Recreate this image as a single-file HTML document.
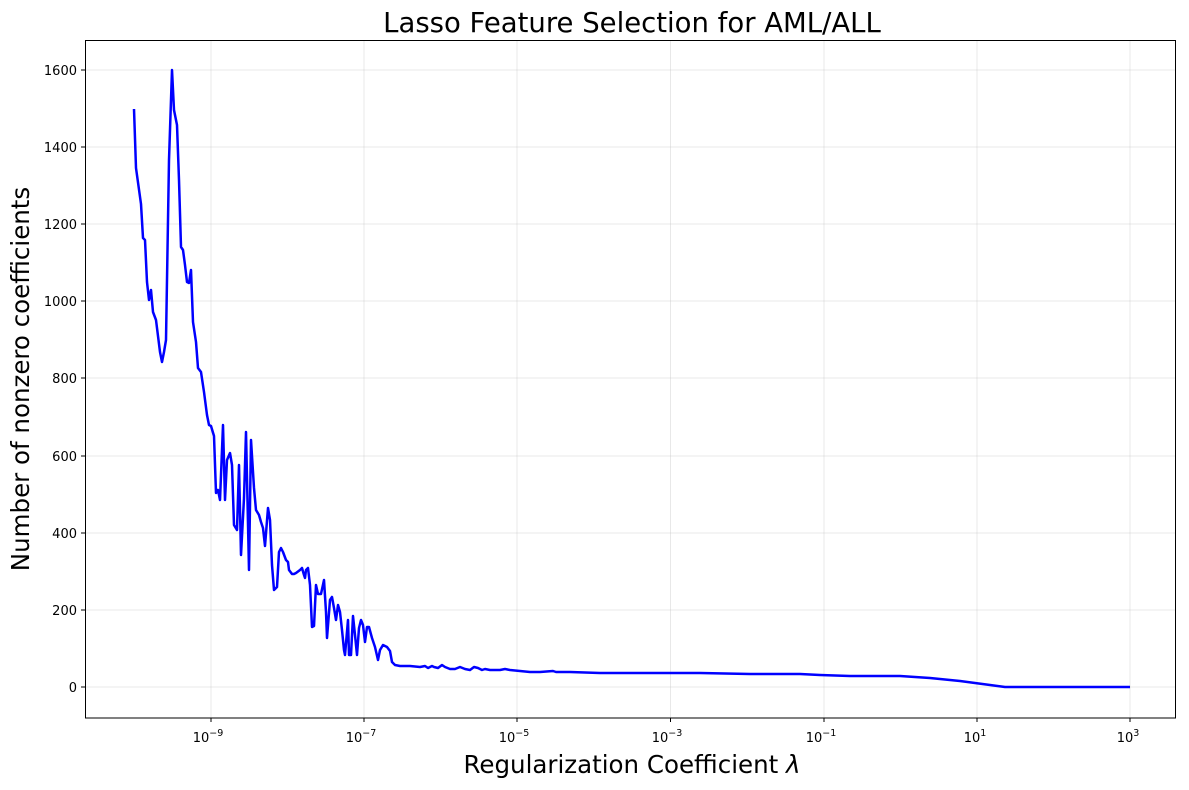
<!DOCTYPE html>
<html><head><meta charset="utf-8"><style>body{margin:0;background:#fff}svg{display:block}text{font-family:"DejaVu Sans","Liberation Sans",sans-serif;fill:#000}</style></head>
<body>
<svg width="1189" height="790" viewBox="0 0 1189 790" xmlns="http://www.w3.org/2000/svg">
<rect width="1189" height="790" fill="#fff"/>
<g stroke="#b0b0b0" stroke-opacity="0.35" stroke-width="0.8">
<line x1="211" y1="40" x2="211" y2="718"/><line x1="364" y1="40" x2="364" y2="718"/><line x1="517" y1="40" x2="517" y2="718"/><line x1="670.5" y1="40" x2="670.5" y2="718"/><line x1="824" y1="40" x2="824" y2="718"/><line x1="977" y1="40" x2="977" y2="718"/><line x1="1130" y1="40" x2="1130" y2="718"/>
<line x1="85" y1="687" x2="1176" y2="687"/><line x1="85" y1="610" x2="1176" y2="610"/><line x1="85" y1="533" x2="1176" y2="533"/><line x1="85" y1="456" x2="1176" y2="456"/><line x1="85" y1="378" x2="1176" y2="378"/><line x1="85" y1="301" x2="1176" y2="301"/><line x1="85" y1="224" x2="1176" y2="224"/><line x1="85" y1="147" x2="1176" y2="147"/><line x1="85" y1="70" x2="1176" y2="70"/>
</g>
<polyline fill="none" stroke="#0000ff" stroke-width="2.5" stroke-linejoin="round" points="134,109 136,168 141,204 143,238 145,240 147,282 149,300 151,290 153,312 156,320 158,336 160,352 162,362 164,352 166,340 169,160 172,70 174,110 177,125 179,180 181,247 183,250 185,265 187,282 189,283 191,270 193,322 196,342 198,368 201,372 204,392 207,415 209,425 211,426 214,436 216,493 218,490 220,500 223,425 225,500 227,460 230,453 232,465 234,525 237,530 239,465 241,555 244,498 246,432 249,570 251,440 254,488 256,510 259,515 261,522 263,528 265,546 268,508 270,520 272,565 274,590 277,587 279,552 281,548 283,552 286,560 288,562 289,570 292,574 294,574 296,573 300,570 302,568 304,575 305,578 306,570 308,568 310,585 312,627 314,626 316,585 318,594 321,594 324,580 326,612 327,638 330,600 332,597 334,608 336,620 338,605 340,612 342,630 344,650 345,655 348,620 349,655 351,655 353,616 355,635 357,655 359,628 361,620 363,625 365,642 367,627 369,627 372,638 375,647 378,660 380,650 383,645 387,647 390,651 392,662 395,665 400,666 410,666 420,667 425,666 428,668 432,666 434,667 438,668 442,665 445,667 450,669 455,669 460,667 465,669 470,670 474,667 478,668 482,670 485,669 490,670 495,670 500,670 505,669 510,670 520,671 530,672 540,672 553,671 556,672 570,672 600,673 650,673 700,673 750,674 800,674 820,675 850,676 900,676 930,678 960,681 975,683 990,685 1005,687 1130,687"/>
<rect x="85.5" y="40.5" width="1090" height="677.5" fill="none" stroke="#000" stroke-width="1"/>
<g stroke="#000" stroke-width="1">
<line x1="211" y1="718" x2="211" y2="722"/><line x1="364" y1="718" x2="364" y2="722"/><line x1="517" y1="718" x2="517" y2="722"/><line x1="670.5" y1="718" x2="670.5" y2="722"/><line x1="824" y1="718" x2="824" y2="722"/><line x1="977" y1="718" x2="977" y2="722"/><line x1="1130" y1="718" x2="1130" y2="722"/>
<line x1="81" y1="687" x2="85" y2="687"/><line x1="81" y1="610" x2="85" y2="610"/><line x1="81" y1="533" x2="85" y2="533"/><line x1="81" y1="456" x2="85" y2="456"/><line x1="81" y1="378" x2="85" y2="378"/><line x1="81" y1="301" x2="85" y2="301"/><line x1="81" y1="224" x2="85" y2="224"/><line x1="81" y1="147" x2="85" y2="147"/><line x1="81" y1="70" x2="85" y2="70"/>
</g>
<g font-size="13" text-anchor="end">
<text x="77" y="692">0</text><text x="77" y="615">200</text><text x="77" y="538">400</text><text x="77" y="461">600</text><text x="77" y="383">800</text><text x="77" y="306">1000</text><text x="77" y="229">1200</text><text x="77" y="152">1400</text><text x="77" y="75">1600</text>
</g>
<g font-size="13" text-anchor="middle">
<text x="208" y="742">10<tspan font-size="9.5" dy="-6">−9</tspan></text>
<text x="361" y="742">10<tspan font-size="9.5" dy="-6">−7</tspan></text>
<text x="514" y="742">10<tspan font-size="9.5" dy="-6">−5</tspan></text>
<text x="667" y="742">10<tspan font-size="9.5" dy="-6">−3</tspan></text>
<text x="821" y="742">10<tspan font-size="9.5" dy="-6">−1</tspan></text>
<text x="975" y="742">10<tspan font-size="9.5" dy="-6">1</tspan></text>
<text x="1128" y="742">10<tspan font-size="9.5" dy="-6">3</tspan></text>
</g>
<text x="632" y="32" font-size="27.5" text-anchor="middle">Lasso Feature Selection for AML/ALL</text>
<text x="632" y="773" font-size="24.5" text-anchor="middle">Regularization Coefficient <tspan font-style="italic">λ</tspan></text>
<text transform="translate(29,379) rotate(-90)" font-size="24.5" text-anchor="middle">Number of nonzero coefficients</text>
</svg>
</body></html>
